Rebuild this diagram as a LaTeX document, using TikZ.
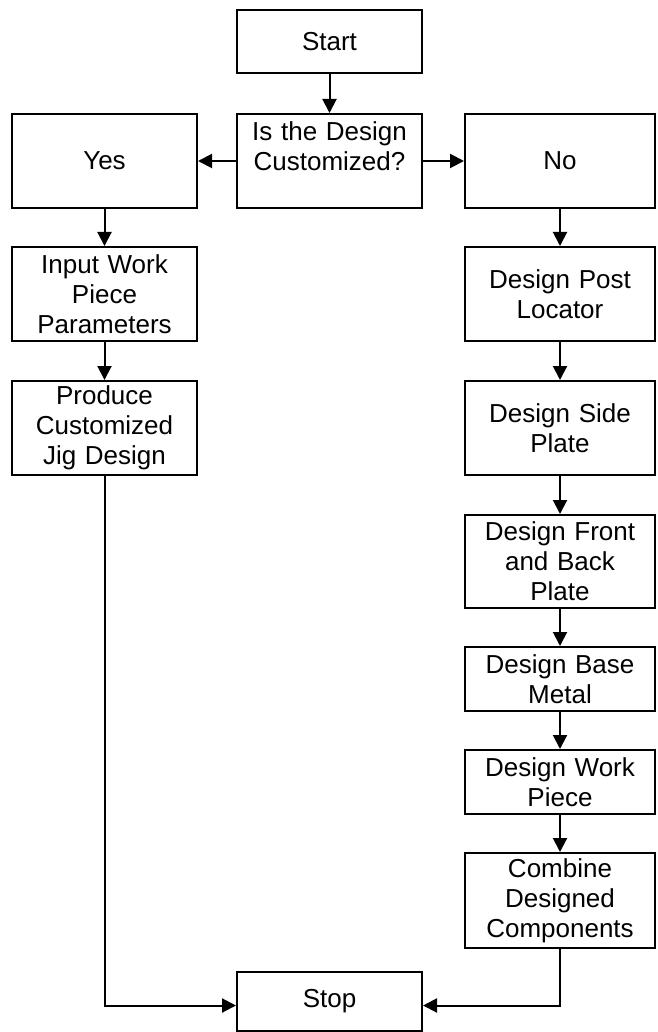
\documentclass[tikz,border=0pt]{standalone}
\usepackage{fontspec}
\setmainfont{Liberation Sans}
\usetikzlibrary{positioning}
\usetikzlibrary{arrows.meta}

\begin{document}
\begin{tikzpicture}[x=1pt,y=-1pt,
  font=\fontsize{26pt}{30pt}\selectfont,
  node distance=38pt,
  box/.style={draw,line width=2pt,align=center,inner sep=0pt,
    text width=178pt,minimum width=185pt,minimum height=94pt},
  widebox/.style={box,minimum width=190pt},
  >={Triangle[length=14pt,width=14pt]},
  link/.style={->,line width=2pt}]
\useasboundingbox (0,0) rectangle (657,1032);
\node (start) [box,minimum height=63pt] at (329.5,41.5) {Start};
\node (dec) [box,below=39pt of start] {Is the Design\\Customized?\\\mbox{}};
\node (yes) [box,left=of dec] {Yes};
\node (no) [widebox,right=41pt of dec] {No};
% yes branch
\node (input) [box,below=37pt of yes] {Input Work\\Piece\\Parameters};
\node (produce) [box,below=of input] {Produce\\Customized\\Jig Design};
% no branch
\node (post) [widebox,below=37pt of no] {Design Post\\Locator};
\node (side) [widebox,below=of post] {Design Side\\Plate};
\node (front) [widebox,minimum height=93pt,below=of side] {Design Front\\and Back\\Plate};
\node (base) [widebox,minimum height=64pt,below=37pt of front] {Design Base\\Metal};
\node (work) [widebox,minimum height=64pt,below=37pt of base] {Design Work\\Piece};
\node (comb) [widebox,minimum height=95pt,below=37pt of work] {Combine\\Designed\\Components};
\node (stop) [box,minimum height=59pt] at (329.5,1001.5) {Stop};
\draw[link] (start.south) -- (dec.north);
\draw[link] (dec.west) -- (yes.east);
\draw[link] (dec.east) -- (no.west);
\draw[link] (yes.south) -- (input.north);
\draw[link] (input.south) -- (produce.north);
\draw[link] (no.south) -- (post.north);
\draw[link] (post.south) -- (side.north);
\draw[link] (side.south) -- (front.north);
\draw[link] (front.south) -- (base.north);
\draw[link] (base.south) -- (work.north);
\draw[link] (work.south) -- (comb.north);
% both branches end at stop
\draw[link] (produce.south) |- ([yshift=-4pt]stop.west);
\draw[link] (comb.south) |- ([yshift=-4pt]stop.east);
\end{tikzpicture}
\end{document}
